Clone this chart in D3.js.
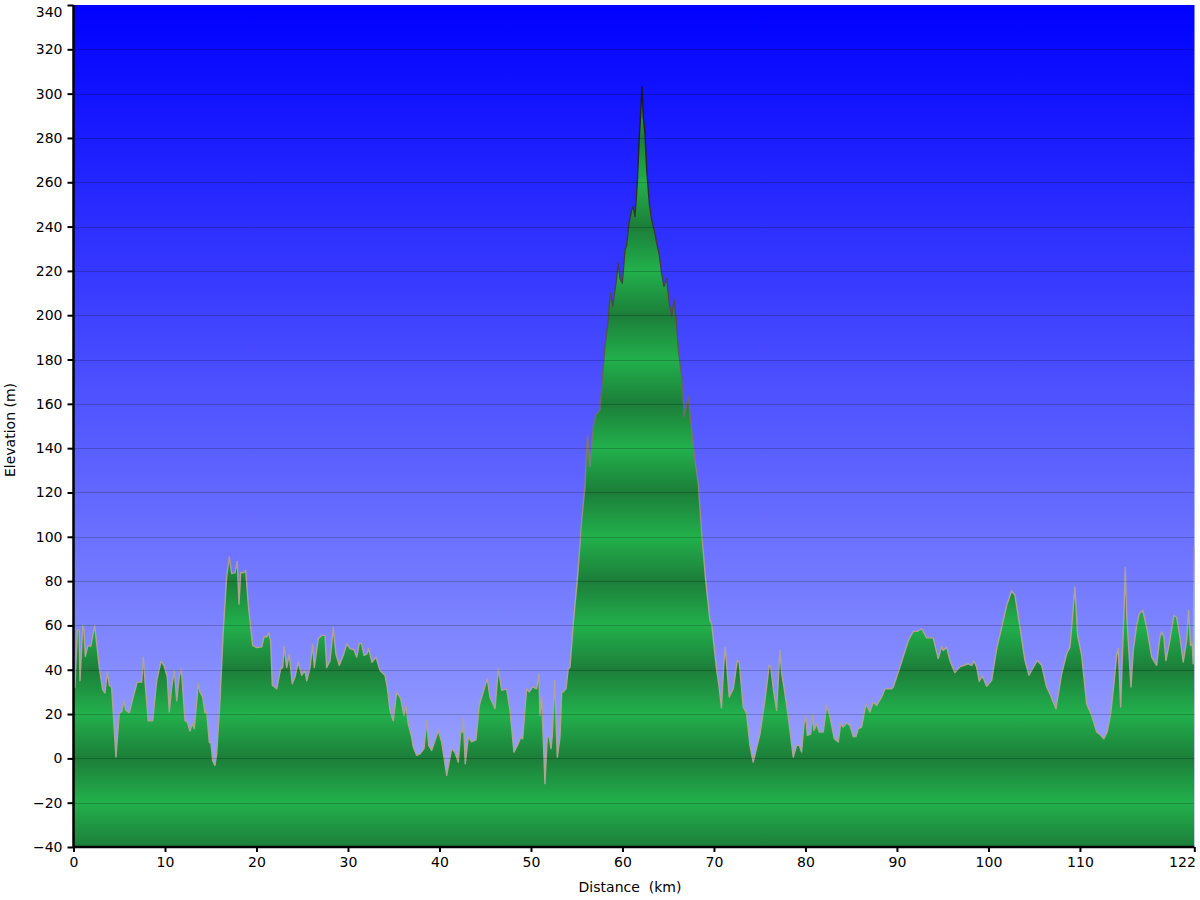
<!DOCTYPE html>
<html>
<head>
<meta charset="utf-8">
<script src="https://cdn.jsdelivr.net/npm/d3@7/dist/d3.min.js"></script>
<style>
  html, body { margin: 0; padding: 0; background: #ffffff; }
  svg { display: block; }
  text { font-family: "DejaVu Sans", Verdana, sans-serif; font-size: 14px; fill: #000; }
</style>
</head>
<body>
<svg id="chart" width="1200" height="900"></svg>
<script>
// ---------- DATA ----------
const distanceKm = [0, 0.16, 0.42, 0.63, 0.71, 1.01, 1.15, 1.29, 1.58, 1.88, 2.32, 2.82, 3.19, 3.44, 3.69, 3.91, 4.17, 4.64, 5.01, 5.27, 5.52, 5.70, 6.10, 6.61, 6.97, 7.45, 7.63, 7.81, 8.17, 8.66, 9.09, 9.56, 9.89, 10.25, 10.47, 10.73, 11.02, 11.28, 11.56, 11.78, 12.19, 12.44, 12.73, 12.98, 13.20, 13.64, 13.83, 14.12, 14.37, 14.56, 14.84, 15.03, 15.21, 15.46, 15.65, 16.01, 16.37, 16.74, 17.03, 17.29, 17.65, 17.90, 18.09, 18.27, 18.56, 18.82, 19.10, 19.58, 20.02, 20.57, 20.82, 21.11, 21.33, 21.55, 21.73, 22.21, 22.64, 22.86, 23.01, 23.30, 23.58, 23.91, 24.21, 24.57, 24.94, 25.30, 25.49, 25.85, 26.14, 26.32, 26.75, 27.13, 27.49, 27.67, 28.03, 28.39, 28.69, 29.05, 29.49, 29.86, 30.22, 30.66, 30.95, 31.24, 31.50, 31.75, 32.04, 32.26, 32.62, 33.06, 33.50, 34.04, 34.29, 34.59, 34.95, 35.32, 35.76, 36.12, 36.34, 36.59, 36.96, 37.14, 37.51, 37.87, 38.31, 38.60, 38.82, 39.15, 39.87, 40.24, 40.79, 41.33, 41.69, 42.05, 42.32, 42.54, 42.60, 42.82, 43.15, 43.52, 43.99, 44.35, 44.79, 45.22, 45.52, 46.07, 46.43, 46.80, 47.34, 47.71, 48.14, 48.61, 48.87, 49.09, 49.53, 49.81, 50.19, 50.62, 50.87, 50.98, 51.17, 51.53, 51.78, 52.00, 52.19, 52.33, 52.59, 52.88, 53.17, 53.36, 53.53, 53.83, 54.08, 54.26, 54.62, 55.06, 55.17, 55.54, 55.90, 56.09, 56.20, 56.45, 56.81, 57.10, 57.54, 57.73, 58.09, 58.45, 58.56, 58.71, 58.93, 59.29, 59.54, 59.73, 59.98, 60.28, 60.46, 60.71, 61.01, 61.18, 61.37, 61.62, 61.84, 61.99, 62.13, 62.27, 62.46, 62.65, 62.93, 63.19, 63.55, 63.74, 64.02, 64.28, 64.54, 64.83, 65.11, 65.38, 65.63, 65.85, 66.10, 66.47, 66.75, 67.19, 67.56, 67.92, 68.28, 68.66, 69.09, 69.56, 69.75, 70.29, 70.54, 70.82, 71.09, 71.23, 71.38, 71.67, 72.11, 72.55, 72.76, 73.20, 73.57, 73.93, 74.29, 75.03, 75.57, 76.04, 76.20, 76.56, 76.85, 77.21, 77.40, 77.65, 78.12, 78.67, 79.04, 79.32, 79.58, 79.84, 80.06, 80.20, 80.57, 80.79, 80.93, 81.22, 81.51, 81.95, 82.32, 82.68, 83.15, 83.59, 83.85, 84.13, 84.50, 84.86, 85.22, 85.52, 85.77, 86.14, 86.61, 87.05, 87.41, 87.78, 88.33, 88.69, 89.42, 89.60, 90.33, 91.24, 91.78, 92.22, 92.70, 93.25, 93.97, 94.51, 94.88, 95.06, 95.43, 95.79, 96.33, 96.89, 97.80, 98.17, 98.42, 98.71, 99.00, 99.34, 99.81, 100.35, 100.90, 101.45, 101.99, 102.54, 102.90, 103.44, 103.99, 104.43, 104.83, 105.33, 105.82, 106.36, 106.80, 107.38, 108.00, 108.55, 108.91, 109.16, 109.45, 109.75, 110.19, 110.73, 111.28, 111.83, 112.19, 112.62, 112.98, 113.36, 113.72, 114.01, 114.19, 114.45, 114.67, 114.81, 114.95, 115.11, 115.28, 115.58, 115.83, 116.20, 116.48, 116.86, 117.29, 117.84, 118.38, 118.74, 118.93, 119.18, 119.40, 119.76, 120.27, 120.57, 120.93, 121.29, 121.66, 121.88, 122.10, 122.27, 122.38, 122.49];

const elevationM = [33, 32, 58, 58, 35, 60, 58, 46, 51, 50.5, 60, 41, 31, 29.5, 39, 33, 32, 0.6, 20.6, 21, 26, 21.7, 20.6, 29, 34.4, 34.4, 45.7, 35, 17, 17, 35, 43.8, 42, 36.7, 21, 32, 39.7, 26, 36.7, 40.5, 17, 16.4, 12.3, 15.6, 13.4, 33.7, 29.9, 27.7, 20.5, 21, 7.4, 6.6, -1, -3.2, 2, 26, 57.8, 82, 91, 83.4, 83.7, 89, 69.7, 84, 83.7, 84.8, 69.7, 51, 50, 50.3, 55, 54.8, 56.6, 53, 33, 31.4, 40.5, 41, 50.5, 41, 47, 33.7, 36.7, 43.4, 37.5, 39.7, 35, 41, 51.4, 41, 54, 55.5, 55.5, 41, 44, 59, 47, 42, 46.5, 51.7, 49.5, 49, 45.7, 52, 51.7, 46.5, 47, 49.5, 43.4, 45.7, 39.7, 37.5, 32.3, 21.7, 17, 30, 27, 19.4, 23.5, 15.6, 9.6, 5, 1.4, 2, 4.4, 17, 5.9, 3.6, 12.6, 7.4, -7.7, 4.4, 2.8, -1.7, 11.9, 11.9, 18.6, -2.4, 9.6, 7.4, 8.4, 24, 30, 36, 27.7, 22.4, 40.5, 30.7, 31.4, 21.7, 2.8, 6.6, 9.6, 8.8, 31.4, 30, 32.3, 31.4, 38, 19.4, 27.7, -11.4, 9.6, 9.6, 4.4, 10.4, 35, 0.6, 9.6, 30, 30, 31.4, 40.5, 41, 61, 80.3, 86.3, 107.4, 122.5, 140.5, 146, 131.6, 149.7, 155, 157.3, 167.8, 185.9, 197.8, 205.4, 209.9, 203.9, 214.4, 223.4, 216.6, 214.4, 229.5, 231.7, 241.5, 247.5, 249, 244.5, 259.5, 280.6, 291, 303, 289.6, 282, 265.5, 250.5, 243, 237, 232.5, 227.2, 219, 212.9, 216.6, 205.4, 199.3, 206.9, 199.3, 184.5, 172.4, 154.4, 163.4, 148.4, 134.8, 124.3, 101.7, 80.7, 62.3, 60.8, 40, 33, 22.8, 43.5, 50.2, 42.7, 27.7, 31.4, 44.2, 43.5, 23.2, 20.2, 5.9, -1.7, 11, 26.2, 42, 41.2, 29.2, 21.7, 48.7, 38.2, 32.2, 18.7, 0.6, 5.9, 5.9, 2.9, 15.7, 18.7, 10.4, 11, 19.4, 12.6, 15.7, 11.9, 11.9, 23.9, 18.7, 8.9, 7.4, 15.7, 14.1, 16, 14.9, 9.9, 9.9, 13.4, 14.1, 24.6, 20.9, 25.4, 23.9, 27.7, 31.4, 31.4, 32.2, 41.2, 53.2, 57.3, 57.3, 58.5, 54.4, 54.4, 45, 50.5, 48.7, 50.2, 44.2, 38.7, 41.3, 42.7, 42, 43.9, 41.2, 34.8, 37.2, 32.5, 35.2, 49.5, 59.3, 69.1, 75.6, 73.6, 59.3, 44.2, 37.5, 40.5, 44.2, 42, 32.2, 28.4, 22.4, 38.2, 47.2, 50.2, 62.3, 77.3, 55.5, 46.5, 24.7, 19.4, 11.9, 10.8, 8.9, 11.9, 20.2, 33.7, 46.5, 49.5, 23.2, 50.2, 65.2, 86.3, 65.2, 53.2, 32.2, 48.7, 60, 65.2, 66.8, 59.3, 45.7, 42, 54.8, 57, 54.8, 44.2, 51.7, 64.5, 63.7, 54.8, 43.5, 53.2, 66.8, 51, 51.7, 42.7, 96];

const yTickValues = [-40, -20, 0, 20, 40, 60, 80, 100, 120, 140, 160, 180, 200, 220, 240, 260, 280, 300, 320, 340];
const xTickValues = [0, 10, 20, 30, 40, 50, 60, 70, 80, 90, 100, 110, 122.5];
const xTickLabels = ["0", "10", "20", "30", "40", "50", "60", "70", "80", "90", "100", "110", "122"];
const xTitle = "Distance\u00a0\u00a0(km)";
const yTitle = "Elevation (m)";

// ---------- LAYOUT ----------
const plot = { left: 73.5, right: 1194.5, top: 5, bottom: 847 };
const svg = d3.select("#chart");

const x = d3.scaleLinear().domain([0, 122.5]).range([plot.left, plot.right - 0.2]);
const y = d3.scaleLinear().domain([-40, 340]).range([plot.bottom, plot.top]);

const points = distanceKm.map((d, i) => ({ d, e: elevationM[i] }));

const defs = svg.append("defs");

// sky gradient
const sky = defs.append("linearGradient").attr("id", "sky")
  .attr("gradientUnits", "userSpaceOnUse")
  .attr("x1", 0).attr("x2", 0).attr("y1", plot.top).attr("y2", plot.bottom);
sky.append("stop").attr("offset", 0).attr("stop-color", "#0000ff");
sky.append("stop").attr("offset", 1).attr("stop-color", "#a9b2ff");

// green banded gradient (dark at multiples of 40 m, light between)
const band = defs.append("linearGradient").attr("id", "band")
  .attr("gradientUnits", "userSpaceOnUse")
  .attr("x1", 0).attr("x2", 0).attr("y1", y(340)).attr("y2", y(-40));
yTickValues.slice().reverse().forEach(v => {
  const dark = ((v % 40) + 40) % 40 === 0;
  band.append("stop")
    .attr("offset", (y(v) - y(340)) / (y(-40) - y(340)))
    .attr("stop-color", dark ? "#1c7e39" : "#22b04c");
});

// outline gradient: darker higher up
const edge = defs.append("linearGradient").attr("id", "edge")
  .attr("gradientUnits", "userSpaceOnUse")
  .attr("x1", 0).attr("x2", 0).attr("y1", y(310)).attr("y2", y(80));
edge.append("stop").attr("offset", 0).attr("stop-color", "#111111");
edge.append("stop").attr("offset", 0.45).attr("stop-color", "#4a4a4a");
edge.append("stop").attr("offset", 0.75).attr("stop-color", "#7c7a78");
edge.append("stop").attr("offset", 1).attr("stop-color", "#aea496");

defs.append("clipPath").attr("id", "clip")
  .append("rect").attr("x", plot.left).attr("y", plot.top)
  .attr("width", plot.right - plot.left).attr("height", plot.bottom - plot.top);

// sky
svg.append("rect")
  .attr("x", plot.left).attr("y", plot.top)
  .attr("width", plot.right - plot.left).attr("height", plot.bottom - plot.top)
  .attr("fill", "url(#sky)");

const g = svg.append("g").attr("clip-path", "url(#clip)");

// terrain area
const area = d3.area()
  .x(p => x(p.d))
  .y0(y(-40))
  .y1(p => y(p.e));
g.append("path").datum(points)
  .attr("d", area)
  .attr("fill", "url(#band)");

// terrain outline
const line = d3.line().x(p => x(p.d)).y(p => y(p.e));
g.append("path").datum(points)
  .attr("d", line)
  .attr("fill", "none")
  .attr("stroke", "url(#edge)")
  .attr("stroke-width", 1.4)
  .attr("stroke-linejoin", "round");

// gridlines on top
g.selectAll("line.grid").data(yTickValues.filter(v => v > -40 && v < 340))
  .join("line").attr("class", "grid")
  .attr("x1", plot.left).attr("x2", plot.right)
  .attr("y1", v => Math.round(y(v)) + 0.5).attr("y2", v => Math.round(y(v)) + 0.5)
  .attr("stroke", "rgba(0,0,0,0.2)").attr("stroke-width", 1);

// axes
const yAxis = d3.axisLeft(y).tickValues(yTickValues).tickSize(6).tickPadding(5)
  .tickFormat(d3.format("d"));
const yG = svg.append("g").attr("transform", `translate(${plot.left},0)`).call(yAxis);
const xAxis = d3.axisBottom(x).tickValues(xTickValues).tickSize(5).tickPadding(5)
  .tickFormat((d, i) => xTickLabels[i]);
const xG = svg.append("g").attr("transform", `translate(0,${plot.bottom})`).call(xAxis);

[yG, xG].forEach(a => {
  a.select(".domain").attr("stroke", "#000").attr("stroke-width", 2.5);
  a.selectAll(".tick line").attr("stroke", "#000").attr("stroke-width", 2);
  a.selectAll(".tick text").attr("fill", "#000")
    .style("font-family", "'DejaVu Sans', Verdana, sans-serif").style("font-size", "14px");
});
yG.select(".domain").attr("d", `M0,${plot.top}V${plot.bottom}`);
xG.select(".domain").attr("d", `M${plot.left},0H${x(122.5)}`);

// keep the top y label inside the page and the last x label inside the plot edge
yG.selectAll(".tick text").filter(v => v === 340).attr("dy", "0.32em").attr("y", 7);
xG.selectAll(".tick text").filter((d, i) => i === xTickValues.length - 1)
  .attr("text-anchor", "end").attr("x", 1);

// titles
svg.append("text")
  .attr("x", 630).attr("y", 892)
  .attr("text-anchor", "middle")
  .text(xTitle);
svg.append("text")
  .attr("transform", `translate(15,430) rotate(-90)`)
  .attr("text-anchor", "middle")
  .text(yTitle);
</script>
</body>
</html>
